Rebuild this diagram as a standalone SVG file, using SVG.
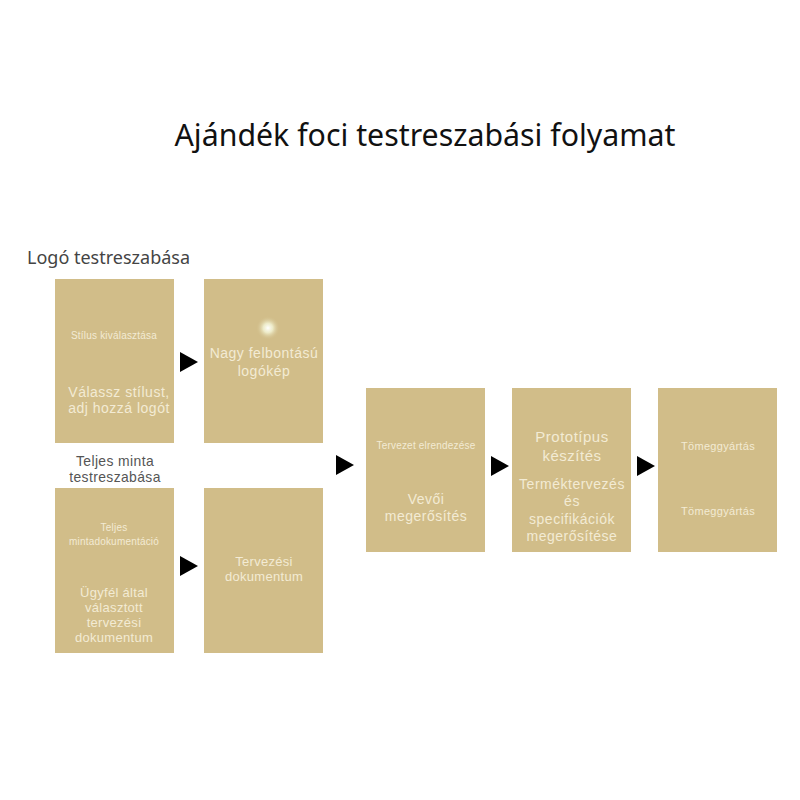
<svg xmlns="http://www.w3.org/2000/svg" width="800" height="800" viewBox="0 0 800 800">
<defs>
<style>
.box{fill:#d1bd89}
.t{font-family:"Liberation Sans","Noto Sans",sans-serif;fill:#f3ebd4;text-anchor:middle}
.s{font-size:10px;letter-spacing:0.2px}
.m{font-size:13px;letter-spacing:0.3px}
.l{font-size:14px;letter-spacing:0.5px}
.arr{fill:#000}
</style>
<radialGradient id="glow">
<stop offset="0" stop-color="#ffffff" stop-opacity="1"/>
<stop offset="0.4" stop-color="#f4f6d8" stop-opacity="0.8"/>
<stop offset="1" stop-color="#d1bd89" stop-opacity="0"/>
</radialGradient>
</defs>
<rect width="800" height="800" fill="#ffffff"/>
<text x="425" y="146" font-family="Noto Sans,Open Sans,sans-serif" font-size="30.3" fill="#111" text-anchor="middle">Ajándék foci testreszabási folyamat</text>
<text x="27" y="264" font-family="Noto Sans,Open Sans,sans-serif" font-size="18" fill="#444">Logó testreszabása</text>
<text x="115" y="466" font-family="Liberation Sans,Noto Sans,sans-serif" font-size="13.9" fill="#555" text-anchor="middle" letter-spacing="0.4">Teljes minta</text>
<text x="115" y="482" font-family="Liberation Sans,Noto Sans,sans-serif" font-size="13.9" fill="#555" text-anchor="middle" letter-spacing="0.4">testreszabása</text>

<g id="node-stilus">
<rect class="box" x="55" y="279" width="119" height="164"/>
<text class="t s" x="114" y="339">Stílus kiválasztása</text>
<text class="t l" x="119" y="397">Válassz stílust,</text>
<text class="t l" x="119" y="413">adj hozzá logót</text>
</g>
<g id="node-logokep">
<rect class="box" x="204" y="279" width="119" height="164"/>
<circle cx="268" cy="328" r="12" fill="url(#glow)"/>
<text class="t l" x="264" y="358">Nagy felbontású</text>
<text class="t l" x="264" y="376">logókép</text>
</g>
<g id="node-minta">
<rect class="box" x="55" y="488" width="119" height="165"/>
<text class="t s" x="114" y="531">Teljes</text>
<text class="t s" x="114" y="545">mintadokumentáció</text>
<text class="t m" x="114" y="597">Ügyfél által</text>
<text class="t m" x="114" y="612">választott</text>
<text class="t m" x="114" y="627">tervezési</text>
<text class="t m" x="114" y="642">dokumentum</text>
</g>
<g id="node-tervdok">
<rect class="box" x="204" y="488" width="119" height="165"/>
<text class="t m" x="264" y="566">Tervezési</text>
<text class="t m" x="264" y="581">dokumentum</text>
</g>
<g id="node-elrendezes">
<rect class="box" x="366" y="388" width="119" height="164"/>
<text class="t s" x="426" y="449">Tervezet elrendezése</text>
<text class="t l" x="426" y="504">Vevői</text>
<text class="t l" x="426" y="521">megerősítés</text>
</g>
<g id="node-prototipus">
<rect class="box" x="512" y="388" width="119" height="164"/>
<text class="t" font-size="15" letter-spacing="0.5" x="572" y="442">Prototípus</text>
<text class="t" font-size="15" letter-spacing="0.5" x="572" y="461">készítés</text>
<text class="t l" x="572" y="489">Terméktervezés</text>
<text class="t l" x="572" y="506">és</text>
<text class="t l" x="572" y="524">specifikációk</text>
<text class="t l" x="572" y="541">megerősítése</text>
</g>
<g id="node-tomeg">
<rect class="box" x="658" y="388" width="119" height="164"/>
<text class="t" font-size="11" letter-spacing="0.3" x="718" y="450">Tömeggyártás</text>
<text class="t" font-size="11" letter-spacing="0.3" x="718" y="515">Tömeggyártás</text>
</g>

<g id="connectors">
<polygon class="arr" points="180,352 198,362 180,372"/>
<polygon class="arr" points="180,556 198,566 180,576"/>
<polygon class="arr" points="336,455 354,465 336,475"/>
<polygon class="arr" points="491,456 509,466 491,476"/>
<polygon class="arr" points="637,456 655,466 637,476"/>
</g>
</svg>
